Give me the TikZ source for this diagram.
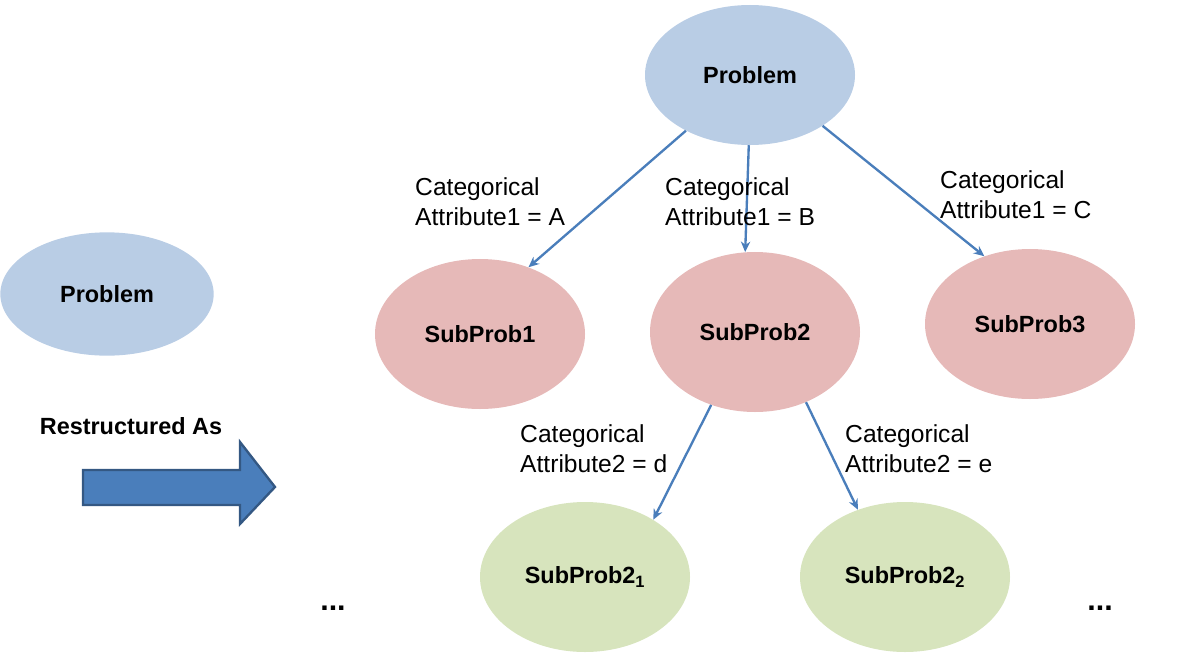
\documentclass[tikz,border=0pt]{standalone}
\usepackage{fontspec}
\setmainfont{Liberation Sans}
\usetikzlibrary{shapes.geometric,arrows.meta}
\definecolor{probblue}{HTML}{B9CDE5}
\definecolor{subpink}{HTML}{E6B9B8}
\definecolor{subgreen}{HTML}{D7E4BD}
\definecolor{linkblue}{HTML}{4A7EBB}
\tikzset{
  blob/.style={ellipse,minimum width=6.3cm,minimum height=4.5cm,inner sep=0pt,font=\fontsize{20}{22}\selectfont\bfseries},
  link/.style={-{Stealth[length=9pt,width=8pt]},linkblue,line width=2pt},
  lbl/.style={align=left,anchor=north west,inner sep=0pt,font=\fontsize{21}{26}\selectfont}
}
\begin{document}
\begin{tikzpicture}[x=0.03cm,y=-0.03cm]
  \useasboundingbox (0,0) rectangle (1200,671);
  \node[blob,fill=probblue,minimum width=6.4cm,minimum height=3.7cm] (P0) at (107,294) {Problem};
  \node[font=\fontsize{20}{22}\selectfont\bfseries] (restr) at (131,426) {Restructured As};
  % big block arrow
  \draw[draw=linkblue!70!black,line width=2pt,fill=linkblue,line join=miter]
    (83,470) -- (240,470) -- (240,442) -- (275,487) -- (240,524) -- (240,505) -- (83,505) -- cycle;
  \node[blob,fill=probblue,minimum height=4.2cm] (P) at (750,75) {Problem};
  \node[blob,fill=subpink] (S1) at (480,334) {SubProb1};
  \node[blob,fill=subpink,minimum height=4.8cm] (S2) at (755,332) {SubProb2};
  \node[blob,fill=subpink] (S3) at (1030,324) {SubProb3};
  \node[blob,fill=subgreen] (S21) at (585,577) {SubProb2\textsubscript{1}};
  \node[blob,fill=subgreen] (S22) at (905,577) {SubProb2\textsubscript{2}};
  \node[font=\fontsize{26}{26}\selectfont\bfseries] (dotsL) at (333,608) {...};
  \node[font=\fontsize{26}{26}\selectfont\bfseries] (dotsR) at (1100,608) {...};
  \draw[link] (P.221) -- (S1.54);
  \draw[link] (P.269) -- (S2.97);
  \draw[link] (P.325) -- (S3.124);
  \draw[link] (S2.239) -- (S21.40);
  \draw[link] (S2.306) -- (S22.125);
  \node[lbl] (la) at (415,177) {Categorical\\Attribute1 = A};
  \node[lbl] (lb) at (665,177) {Categorical\\Attribute1 = B};
  \node[lbl] (lc) at (940,170) {Categorical\\Attribute1 = C};
  \node[lbl] (ld) at (520,424) {Categorical\\Attribute2 = d};
  \node[lbl] (le) at (845,424) {Categorical\\Attribute2 = e};
\end{tikzpicture}
\end{document}
